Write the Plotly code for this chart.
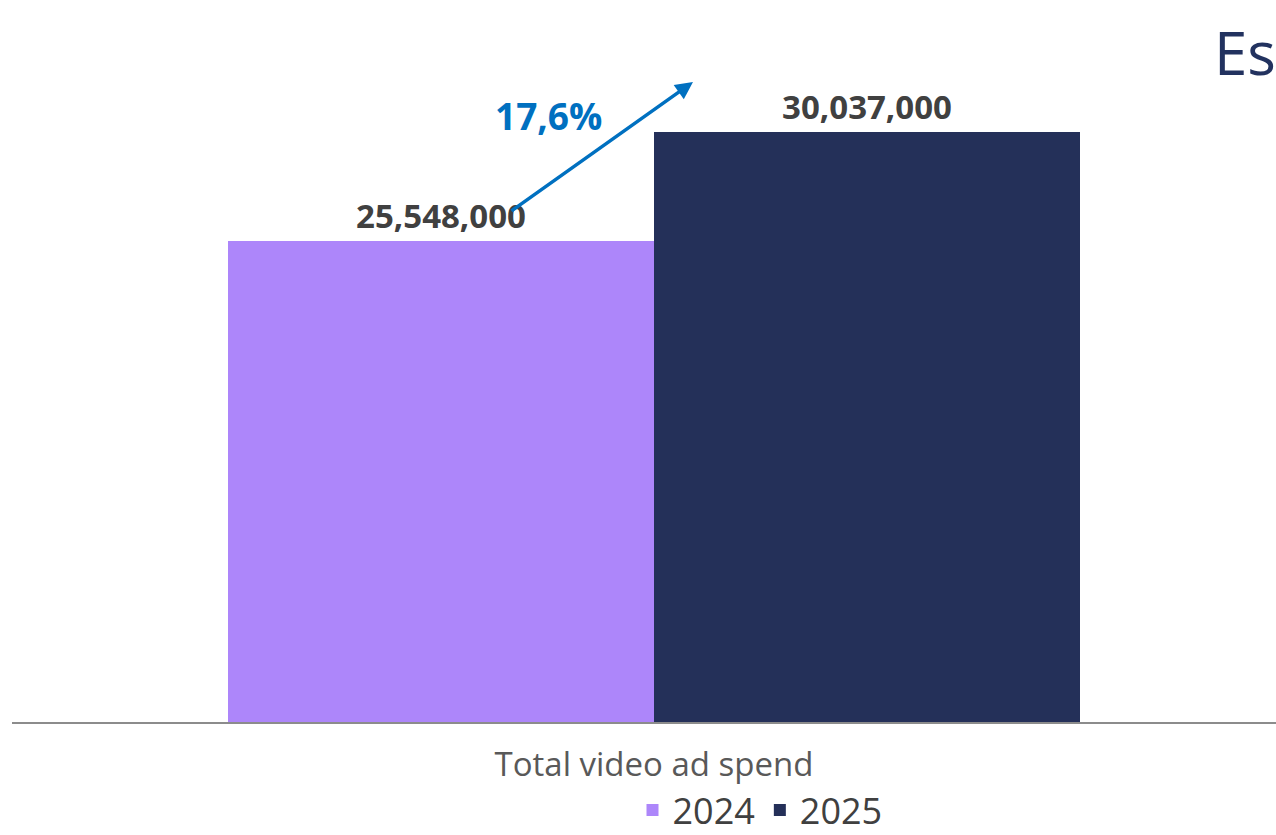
import plotly.graph_objects as go

categories = ["Total video ad spend"]
series_names = ["2024", "2025"]
values_2024 = [25548000]
values_2025 = [30037000]
growth_label = "17,6%"
title_text = "Es"

colors = {"2024": "#AD86FA", "2025": "#243059"}

W, H = 1276, 835
ML, MR, MT, MB = 12, 0, 20, 113
plot_w = W - ML - MR
plot_h = H - MT - MB

def px_x(px):
    return (px - ML) / plot_w

def px_y(py):
    return (H - MB - py) / plot_h

fig = go.Figure()
for name, vals in (("2024", values_2024), ("2025", values_2025)):
    fig.add_trace(go.Bar(
        name=name, x=categories, y=vals,
        marker=dict(color=colors[name], line=dict(width=0)),
        texttemplate="%{y:,}", textposition="outside",
        textfont=dict(family="Open Sans", size=33, color="#404040", weight="bold"),
        cliponaxis=False,
    ))

center_px = 654
group_px = 852
left_units = (center_px - ML) / plot_w

fig.update_layout(
    width=W, height=H,
    margin=dict(l=ML, r=MR, t=MT, b=MB, autoexpand=False),
    paper_bgcolor="white", plot_bgcolor="white",
    barmode="group", bargap=1 - group_px / plot_w, bargroupgap=0,
    xaxis=dict(
        range=[-left_units, 1 - left_units],
        showline=True, linecolor="#8c8c8c", linewidth=2,
        ticks="outside", ticklen=12, tickcolor="rgba(0,0,0,0)",
        tickfont=dict(family="Open Sans", size=33, color="#595959"),
        showgrid=False, zeroline=False,
    ),
    yaxis=dict(
        range=[5738000, 34648000],
        visible=False, showgrid=False, zeroline=False,
    ),
    showlegend=True,
    legend=dict(
        orientation="h", x=px_x(760), xanchor="center",
        y=px_y(810), yanchor="middle",
        font=dict(family="Open Sans", size=36, color="#404040"),
        itemwidth=30, tracegroupgap=0, bgcolor="rgba(0,0,0,0)",
    ),
    font=dict(family="Open Sans"),
)

fig.add_annotation(
    xref="paper", yref="paper", x=px_x(1212), y=px_y(52),
    xanchor="left", yanchor="middle", text=title_text, showarrow=False,
    font=dict(family="Open Sans", size=60, color="#22325F"),
)

fig.add_annotation(
    xref="paper", yref="paper", x=px_x(693), y=px_y(82),
    ax=510 - 693, ay=212 - 82, axref="pixel", ayref="pixel",
    text="", showarrow=True, arrowhead=2, arrowsize=1, arrowwidth=3.5,
    arrowcolor="#0070C0",
)

fig.add_annotation(
    xref="paper", yref="paper", x=px_x(548), y=px_y(116),
    xanchor="center", yanchor="middle", text=growth_label, showarrow=False,
    font=dict(family="Open Sans", size=37, color="#0070C0", weight="bold"),
)

fig.write_html("out.html", config={"displayModeBar": False},
               post_script="document.body.style.margin='0';")
